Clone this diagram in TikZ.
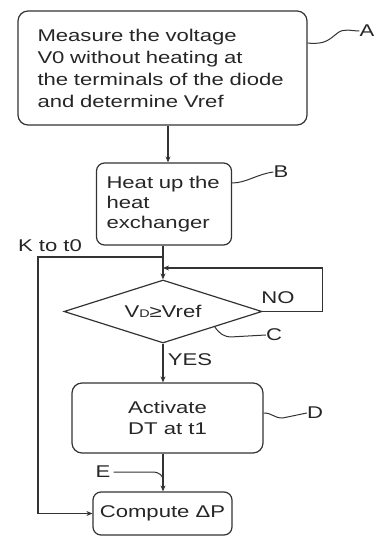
\documentclass[tikz,border=0pt]{standalone}
\usepackage{fontspec}
\setmainfont[FakeStretch=1.3]{Liberation Sans}
\usetikzlibrary{shapes.geometric,arrows.meta,calc}
\begin{document}
\begin{tikzpicture}[x=1pt,y=-1pt,
 box/.style={draw=black!80,line width=1.2pt,rounded corners=10pt,inner sep=0pt},
 txt/.style={font=\fontsize{17}{22}\selectfont,text=black!85},
 arr/.style={draw=black!80,line width=1.1pt,-{Stealth[length=6pt,width=5pt]}},
 ln/.style={draw=black!80,line width=1pt},
 lbl/.style={font=\fontsize{17}{20}\selectfont,text=black!85,inner sep=0pt}]
\useasboundingbox (0,0) rectangle (375,537);
% boxes
\node[box,txt,minimum width=289pt,minimum height=114pt,text width=250pt,align=left] (A) at (162.5,68) {Measure the voltage\\V0 without heating at\\the terminals of the diode\\and determine Vref};
\node[box,rounded corners=8pt,minimum width=135pt,minimum height=82pt,text width=115pt,align=left,font=\fontsize{17}{20}\selectfont,text=black!85] (B) at (164,204) {Heat up the\\heat\\exchanger};
\node[diamond,draw=black!80,line width=1.2pt,minimum width=198pt,minimum height=63pt,inner sep=0pt,aspect=3.14,txt] (C) at (163,311.5) {V{\fontsize{11}{11}\selectfont D}≥Vref};
\node[box,txt,minimum width=191pt,minimum height=70pt,align=center,font=\fontsize{17}{21}\selectfont] (D) at (167.5,418) {Activate\\DT at t1};
\node[box,txt,rounded corners=8pt,minimum width=139pt,minimum height=43pt] (P) at (162.5,513.5) {Compute ΔP};
% labels
\node[lbl] (la) at (367,31) {A};
\node[lbl] (lb) at (281,172) {B};
\node[lbl] (lc) at (274,335) {C};
\node[lbl] (ld) at (315,413) {D};
\node[lbl] (le) at (103,472) {E};
\node[lbl] (no) at (278,298) {NO};
\node[lbl] (yes) at (190,360) {YES};
\node[lbl] (kt) at (50,246) {K to t0};
% helper coordinates
\coordinate (ax) at (168,0);
\coordinate (bx) at (163,0);
\coordinate (j1) at (163,257);
\coordinate (j2) at (163,268);
\coordinate (kc) at (38,257);
% connectors
\draw[arr] (A.south -| ax) -- (B.north -| ax);
\draw[arr] (B.south -| bx) -- (C.north);
\draw[arr] (C.east) -- ++(60,0) |- (j2);
\draw[arr] (j1) -- (kc) |- (P.west);
\draw[arr] (C.south) -- (D.north -| C.south);
\draw[arr] (D.south -| bx) -- (P.north -| bx);
% leader squiggles
\draw[ln] ($(A.east)+(0,-25)$) .. controls +(18,2) and +(-8,6) .. ($(A.east)+(30,-35)$) .. controls +(6,-5) and +(-8,0) .. (la.west);
\draw[ln] ($(B.east)+(0,-21)$) .. controls +(14,0) and +(-16,2) .. (lb.west);
\draw[ln] ($(C.east)!0.48!(C.south)$) .. controls +(5,7) and +(-8,0) .. ++(17,10) -- (lc.west);
\draw[ln] ($(D.east)+(0,-5)$) .. controls +(9,0) and +(-9,0) .. ++(19,5) -- (ld.west);
\draw[ln] (le.east) ++(3,0) -- (152,472) .. controls (160,472) and (163,476) .. (163,480);
\end{tikzpicture}
\end{document}
